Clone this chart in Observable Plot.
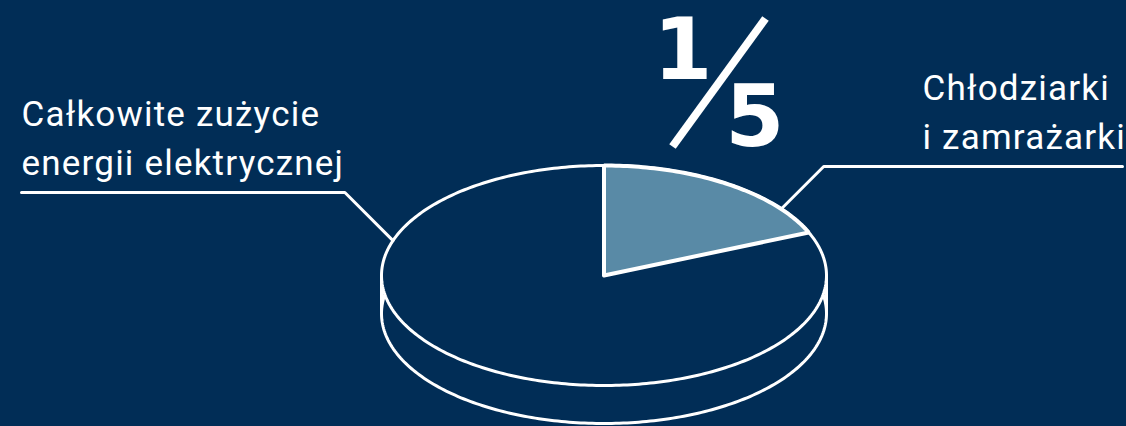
<!DOCTYPE html>
<html><head><meta charset="utf-8">
<script src="https://cdn.jsdelivr.net/npm/d3@7"></script>
<script src="https://cdn.jsdelivr.net/npm/@observablehq/plot@0.6"></script>
<style>
html,body{margin:0;padding:0;background:#012d56;overflow:hidden}
#chart svg{display:block}
#chart svg text{letter-spacing:1.2px}
</style></head><body><div id="chart"></div>
<script>
// ---- data ----
const categories = ["Całkowite zużycie energii elektrycznej", "Chłodziarki i zamrażarki"];
const labelLines = [["Całkowite zużycie", "energii elektrycznej"], ["Chłodziarki", "i zamrażarki"]];
const numerator = 1;
const denominator = 5;
// share of the highlighted slice as drawn in the picture (labelled "1/5")
const shares = [1, 0.186];

// ---- layout / style ----
const W = 1126, H = 426;
const BG = "#012d56", SLICE = "#598aa6", FG = "#ffffff";
const pie = {cx: 603.5, cy: 275, rx: 222.5, ry: 110, depth: 38};
const FONT = "Roboto, 'DejaVu Sans', sans-serif";
const FS = 35, LH = 49;

const rad = d => d * Math.PI / 180;
const pt = (deg, dy = 0) => [pie.cx + pie.rx * Math.sin(rad(deg)), pie.cy - pie.ry * Math.cos(rad(deg)) + dy];
const ellipse = dy => d3.range(0, 361, 1).map(a => pt(a, dy));

const sliceEnd = shares[1] * 360;
const slicePath = [[pie.cx, pie.cy], ...d3.range(0, sliceEnd + 0.001, 1).map(a => pt(Math.min(a, sliceEnd))), pt(sliceEnd), [pie.cx, pie.cy]];

// leader lines: anchor angle on ellipse, then 45° up to underline level, then horizontal
const leaders = [
  {angle: 288.5, level: 192, end: 21, textX: 21, text: labelLines[0]},
  {angle: 52.8, level: 166, end: 1122, textX: 922, text: labelLines[1]}
];
const leaderPaths = leaders.map(l => {
  const a = pt(l.angle);
  const dy = a[1] - l.level;
  const dir = l.end < a[0] ? -1 : 1;
  return [a, [a[0] + dir * dy, l.level], [l.end, l.level]];
});
const textRows = [];
leaders.forEach(l => {
  l.text.forEach((t, j) => {
    const baseline = l.level - 18 - (l.text.length - 1 - j) * LH;
    textRows.push({x: l.textX, y: baseline - 0.32 * FS, t});
  });
});

const sides = [[pt(270), pt(270, pie.depth)], [pt(90), pt(90, pie.depth)]];
const slash = [[672, 146], [765, 18]];

const line = (pts, o) => Plot.line(pts, {x: d => d[0], y: d => d[1], ...o});

const chart = Plot.plot({
  width: W, height: H, margin: 0,
  x: {domain: [0, W], range: [0, W], axis: null},
  y: {domain: [0, H], range: [0, H], axis: null},
  style: {background: BG, color: FG},
  marks: [
    line(ellipse(pie.depth), {fill: BG, stroke: FG, strokeWidth: 3}),
    ...sides.map(s => line(s, {stroke: FG, strokeWidth: 3})),
    line(ellipse(0), {fill: BG, stroke: FG, strokeWidth: 3}),
    line(slicePath, {fill: SLICE, stroke: FG, strokeWidth: 4, strokeLinejoin: "miter"}),
    ...leaderPaths.map(p => line(p, {stroke: FG, strokeWidth: 3, strokeLinejoin: "miter"})),
    Plot.text(textRows, {x: "x", y: "y", text: "t", textAnchor: "start", lineAnchor: "middle", fill: FG, fontSize: FS, fontFamily: FONT}),
    Plot.text([{x: 683, y: 78 - 0.32 * 85, t: String(numerator)}, {x: 755, y: 145 - 0.32 * 85, t: String(denominator)}],
      {x: "x", y: "y", text: "t", lineAnchor: "middle", fill: FG, fontSize: 85, fontWeight: "bold", fontFamily: "'DejaVu Sans', sans-serif"}),
    line(slash, {stroke: FG, strokeWidth: 8, strokeLinecap: "butt"})
  ]
});
document.getElementById("chart").append(chart);
</script></body></html>
